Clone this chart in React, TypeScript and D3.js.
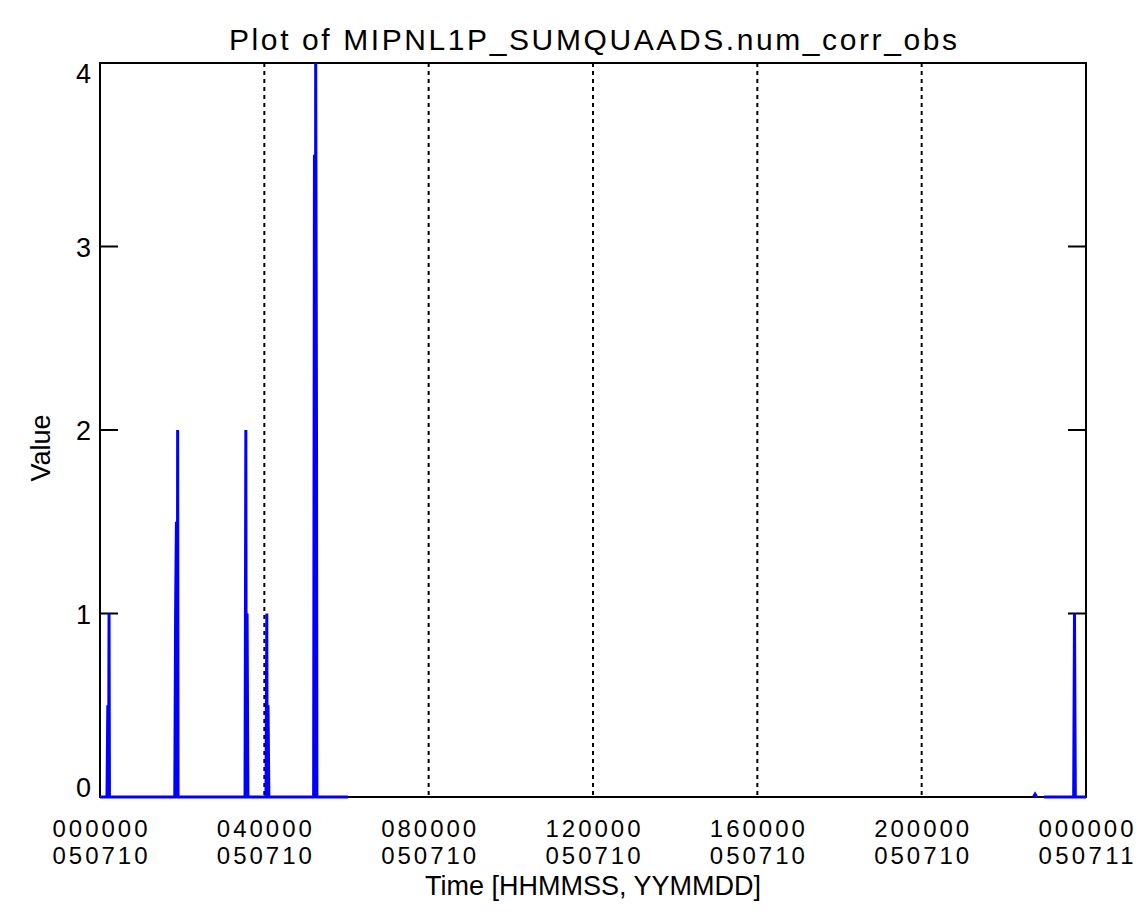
import * as d3 from 'd3';

// Plot of MIPNL1P_SUMQUAADS.num_corr_obs - one day of samples, hours since 000000 050710
// null marks a gap in the record

const obsHours = [
  0, 0.17, 0.19, 0.21, 0.22, 0.23,
  1.82, 1.84, 1.86, 1.88, 1.89, 1.9,
  3.53, 3.55, 3.56, 3.58, 3.6,
  4.04, 4.06, 4.07, 4.09, 4.11,
  5.2, 5.22, 5.24, 5.25, 5.27, 5.28,
  6.04, 6.1,
  22.72, 22.76, 22.8, 22.86,
  22.98, 23.7, 23.72, 23.74, 24,
];
const obsValues: (number | null)[] = [
  0, 0, 0.5, 0, 1, 0,
  0, 1, 1.5, 0, 2, 0,
  0, 2, 0, 1, 0,
  0, 1, 0, 0.5, 0,
  0, 3.5, 0, 4, 2, 0,
  0, null,
  0, 0.015, 0, null,
  0, 0, 1, 0, 0,
];

const xTickHours = [0, 4, 8, 12, 16, 20, 24];
const xTickTimes = ['000000', '040000', '080000', '120000', '160000', '200000', '000000'];
const xTickDates = ['050710', '050710', '050710', '050710', '050710', '050710', '050711'];
const yTicks = [0, 1, 2, 3, 4];

const W = 1144;
const H = 922;
const M = { left: 100, right: 1086, top: 63, bottom: 797 };
const FONT = '"Liberation Sans", Arial, sans-serif';

export default function App() {
  const x = d3.scaleLinear().domain([0, 24]).range([M.left, M.right]);
  const y = d3.scaleLinear().domain([0, 4]).range([M.bottom, M.top]);

  const pts = obsHours.map((h, i) => ({ h, v: obsValues[i] }));
  const line = d3
    .line<{ h: number; v: number | null }>()
    .defined((d) => d.v !== null)
    .x((d) => x(d.h))
    .y((d) => y(d.v as number));

  return (
    <svg
      width={W}
      height={H}
      style={{ position: 'absolute', left: 0, top: 0, background: '#fff' }}
      fontFamily={FONT}
    >
      <rect width={W} height={H} fill="#fff" />
      {/* title */}
      <text
        x={(M.left + M.right) / 2}
        y={50}
        textAnchor="middle"
        fontSize={30}
        fill="#000"
        textLength={728}
        lengthAdjust="spacing"
      >
        Plot of MIPNL1P_SUMQUAADS.num_corr_obs
      </text>

      {/* dotted grid at interior time ticks */}
      {xTickHours.slice(1, -1).map((h) => (
        <line
          key={'g' + h}
          x1={x(h)}
          x2={x(h)}
          y1={M.top}
          y2={M.bottom}
          stroke="#000"
          strokeWidth={2}
          strokeDasharray="4,4"
        />
      ))}

      {/* frame */}
      <rect
        x={M.left}
        y={M.top}
        width={M.right - M.left}
        height={M.bottom - M.top}
        fill="none"
        stroke="#000"
        strokeWidth={2}
      />

      {/* y ticks both sides, pointing inward */}
      {yTicks.map((v) => (
        <g key={'y' + v}>
          <line x1={M.left} x2={M.left + 18} y1={y(v)} y2={y(v)} stroke="#000" strokeWidth={2} />
          <line x1={M.right - 18} x2={M.right} y1={y(v)} y2={y(v)} stroke="#000" strokeWidth={2} />
          <text
            x={91}
            y={v === 4 ? y(v) + 20 : v === 0 ? y(v) : y(v) + 10}
            textAnchor="end"
            fontSize={27}
            fill="#000"
          >
            {v}
          </text>
        </g>
      ))}

      {/* data, drawn over the frame */}
      <path d={line(pts) || ''} fill="none" stroke="#0000ff" strokeWidth={3} strokeLinejoin="miter" />

      {/* x tick labels */}
      {xTickHours.map((h, i) => (
        <g key={'x' + i}>
          <text x={x(h)} y={837} textAnchor="middle" fontSize={24} fill="#000" textLength={95} lengthAdjust="spacing">
            {xTickTimes[i]}
          </text>
          <text x={x(h)} y={864} textAnchor="middle" fontSize={24} fill="#000" textLength={95} lengthAdjust="spacing">
            {xTickDates[i]}
          </text>
        </g>
      ))}

      <text x={(M.left + M.right) / 2} y={895} textAnchor="middle" fontSize={27} fill="#000">
        Time [HHMMSS, YYMMDD]
      </text>
      <text
        transform={`translate(50, ${(M.top + M.bottom) / 2 + 18}) rotate(-90)`}
        textAnchor="middle"
        fontSize={27}
        fill="#000"
      >
        Value
      </text>
    </svg>
  );
}
